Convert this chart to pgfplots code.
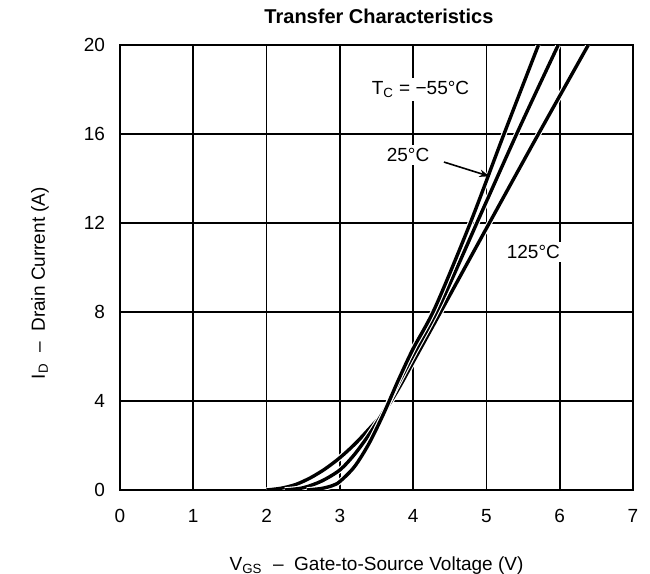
\documentclass[border=0pt]{standalone}
\usepackage{pgfplots}
\pgfplotsset{compat=1.18}
\usepackage{fontspec}
\setmainfont{Liberation Sans}
\usetikzlibrary{arrows.meta}

\pgfplotstableread{
x y
2.55 0
2.75 0.07
2.9 0.2
3.0 0.38
3.2 1.05
3.4 2.1
3.6 3.45
3.8 4.95
4.0 6.35
4.3 8.2
4.78 12
5.24 16
5.71 20
}\tcold

\pgfplotstableread{
x y
2.25 0
2.5 0.1
2.75 0.4
3.0 0.9
3.2 1.6
3.4 2.5
3.6 3.55
3.8 4.8
4.0 6.05
4.38 8.4
4.91 12.3
5.44 16.2
5.98 20
}\troom

\pgfplotstableread{
x y
2.0 0
2.2 0.08
2.4 0.25
2.6 0.55
2.8 0.95
3.0 1.45
3.2 2.05
3.4 2.75
3.6 3.5
3.8 4.55
4.0 5.75
4.2 6.95
4.4 8.15
5.04 12
5.71 16
6.39 20
}\thot

\begin{document}
\begin{tikzpicture}
\useasboundingbox (-60pt,-42pt) rectangle (265pt,245pt);
\begin{axis}[
    at={(0,0)}, anchor=south west,
    scale only axis,
    width=256.5pt,
    height=222.5pt,
    xmin=0, xmax=7,
    ymin=0, ymax=20,
    xtick={0,1,...,7},
    ytick={0,4,...,20},
    grid=major,
    major grid style={black, line width=0.9pt},
    axis line style={line width=1pt},
    major tick length=0pt,
    tick label style={font=\fontsize{9.5}{11}\selectfont},
    xticklabel style={yshift=-6pt},
    yticklabel style={xshift=-4pt},
    /pgf/number format/assume math mode=true,
    xlabel={V\textsubscript{GS}\ \ –\ \ Gate-to-Source Voltage (V)},
    xlabel style={at={(axis description cs:0.5,0)}, anchor=center, yshift=-38pt,
      font=\fontsize{9.5}{11}\selectfont},
    ylabel={I\textsubscript{D}\ \ –\ \ Drain Current (A)},
    ylabel style={at={(axis description cs:0,0.465)}, anchor=center,
      yshift=40pt, font=\fontsize{9.5}{11}\selectfont},
    curve/.style={black, no markers, line width=1.7pt, smooth, tension=0.5,
      preaction={draw, white, line width=2.8pt}},
  ]
  \addplot[curve] table[x=x, y=y] {\thot};
  \addplot[curve] table[x=x, y=y] {\troom};
  \addplot[curve] table[x=x, y=y] {\tcold};

  \node[fill=white, inner sep=1.5pt, font=\fontsize{9.5}{11}\selectfont]
    at (axis cs:4.1,18.0) {T\textsubscript{C} = −55°C};
  \node[fill=white, inner sep=1.5pt, font=\fontsize{9.5}{11}\selectfont]
    at (axis cs:3.93,15.05) {25°C};
  \node[fill=white, inner sep=1.5pt, font=\fontsize{9.5}{11}\selectfont]
    at (axis cs:5.64,10.7) {125°C};
  \draw[-{Stealth[length=5pt]}, line width=0.8pt]
    (axis cs:4.42,14.74) -- (axis cs:5.04,14.1);
\end{axis}
\node[anchor=center, font=\bfseries\fontsize{10}{12}\selectfont]
  at (129.5pt,237pt) {Transfer Characteristics};
\end{tikzpicture}
\end{document}
